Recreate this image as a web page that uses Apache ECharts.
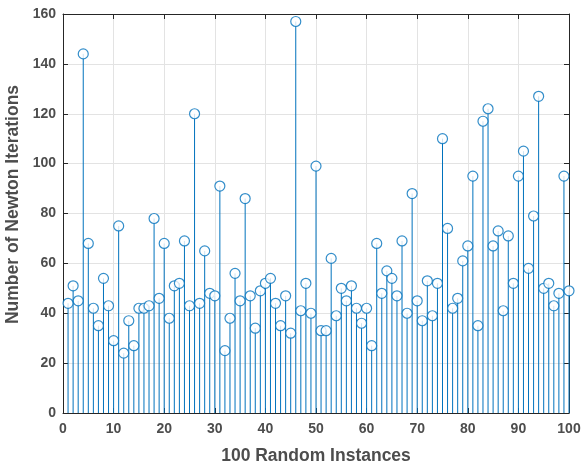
<!DOCTYPE html>
<html>
<head>
<meta charset="utf-8">
<script src="https://cdn.jsdelivr.net/npm/echarts@6/dist/echarts.min.js"></script>
<style>
  html, body { margin: 0; padding: 0; background: #fff; }
  #chart { width: 581px; height: 464px; }
</style>
</head>
<body>
<div id="chart"></div>
<script>
// iteration count for each random instance (1..100)
var iterations = [
  44, 51, 45, 144, 68, 42, 35, 54, 43, 29,
  75, 24, 37, 27, 42, 42, 43, 78, 46, 68,
  38, 51, 52, 69, 43, 120, 44, 65, 48, 47,
  91, 25, 38, 56, 45, 86, 47, 34, 49, 52,
  54, 44, 35, 47, 32, 157, 41, 52, 40, 99,
  33, 33, 62, 39, 50, 45, 51, 42, 36, 42,
  27, 68, 48, 57, 54, 47, 69, 40, 88, 45,
  37, 53, 39, 52, 110, 74, 42, 46, 61, 67,
  95, 35, 117, 122, 67, 73, 41, 71, 52, 95,
  105, 58, 79, 127, 50, 52, 43, 48, 95, 49
];
var xTicks = [0, 10, 20, 30, 40, 50, 60, 70, 80, 90, 100];
var yTicks = [0, 20, 40, 60, 80, 100, 120, 140, 160];

var points = iterations.map(function (v, i) { return [i + 1, v]; });

var stemColor = '#0072BD';
var textColor = '#4d4d4d';
var axisColor = '#262626';
var font = 'Liberation Sans';

var myChart = echarts.init(document.getElementById('chart'));

function boxAxis(pos, min, max, step) {
    return {
        type: 'value',
        position: pos,
        min: min, max: max, interval: step,
        axisLine: { show: true, onZero: false, lineStyle: { color: axisColor, width: 1 } },
        axisTick: { show: true, inside: true, length: 5, lineStyle: { color: axisColor } },
        axisLabel: { show: false },
        splitLine: { show: false }
    };
}

var option = {
    animation: false,
    grid: { left: 63, right: 12, top: 14, bottom: 51, outerBoundsMode: 'none', containLabel: false },
    xAxis: [
        {
            type: 'value',
            min: xTicks[0],
            max: xTicks[xTicks.length - 1],
            interval: 10,
            name: '100 Random Instances',
            nameLocation: 'middle',
            nameGap: 34,
            nameTextStyle: { color: textColor, fontFamily: font, fontWeight: 'bold', fontSize: 17.5 },
            axisLine: { onZero: false, lineStyle: { color: axisColor, width: 1 } },
            axisTick: { inside: true, length: 5, lineStyle: { color: axisColor } },
            axisLabel: { color: textColor, fontFamily: font, fontWeight: 'bold', fontSize: 14, margin: 9 },
            splitLine: { show: true, lineStyle: { color: '#e3e3e3', width: 1 } }
        },
        boxAxis('top', 0, 100, 10)
    ],
    yAxis: [
        {
            type: 'value',
            min: yTicks[0],
            max: yTicks[yTicks.length - 1],
            interval: 20,
            name: 'Number of Newton Iterations',
            nameLocation: 'middle',
            nameGap: 37,
            nameTextStyle: {
                color: textColor, fontFamily: font, fontWeight: 'bold', fontSize: 17.5,
                padding: [0, 0, 0, 18]
            },
            axisLine: { show: true, onZero: false, lineStyle: { color: axisColor, width: 1 } },
            axisTick: { show: true, inside: true, length: 5, lineStyle: { color: axisColor } },
            axisLabel: { color: textColor, fontFamily: font, fontWeight: 'bold', fontSize: 14, margin: 7 },
            splitLine: { show: true, lineStyle: { color: '#e3e3e3', width: 1 } }
        },
        boxAxis('right', 0, 160, 20)
    ],
    series: [
        {
            // stems from 0 up to each value
            type: 'custom',
            data: points,
            renderItem: function (params, api) {
                var base = api.coord([api.value(0), 0]);
                var top = api.coord([api.value(0), api.value(1)]);
                return {
                    type: 'line',
                    shape: { x1: base[0], y1: base[1], x2: top[0], y2: top[1] },
                    style: { stroke: stemColor, lineWidth: 1 }
                };
            },
            z: 2
        },
        {
            type: 'scatter',
            data: points,
            symbol: 'circle',
            symbolSize: 10,
            itemStyle: { color: '#ffffff', borderColor: stemColor, borderWidth: 1.2 },
            z: 3
        },
        {
            // keeps the top/right box axes drawn
            type: 'scatter',
            xAxisIndex: 1,
            yAxisIndex: 1,
            data: [],
            silent: true
        }
    ]
};
myChart.setOption(option);
</script>
</body>
</html>
